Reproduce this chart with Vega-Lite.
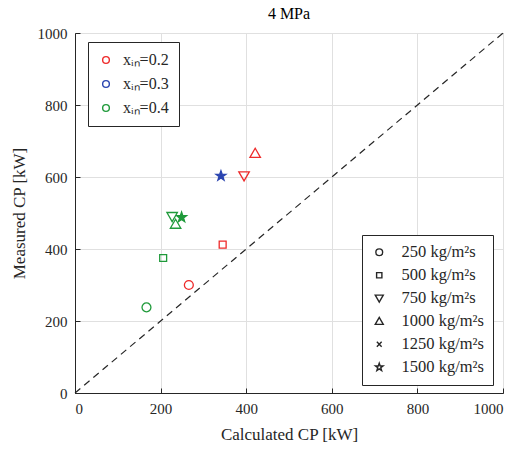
{
  "$schema": "https://vega.github.io/schema/vega-lite/v6.json",
  "width": 428,
  "height": 360,
  "autosize": "none",
  "padding": {"left": 75, "top": 33, "right": 21, "bottom": 57},
  "title": {"text": "4 MPa", "fontSize": 16, "font": "Liberation Serif", "fontWeight": "normal", "offset": 4, "color": "black"},
  "config": {
    "font": "Liberation Serif",
    "view": {"stroke": "#262626", "strokeWidth": 1},
    "axis": {
      "grid": true,
      "gridColor": "#e0e0e0",
      "gridWidth": 1,
      "domainColor": "#262626",
      "tickColor": "#262626",
      "tickSize": -5,
      "labelPadding": 13,
      "labelFontSize": 15,
      "labelColor": "#262626",
      "titleFontSize": 17,
      "titleFontWeight": "normal",
      "titleColor": "#262626",
      "labelFont": "Liberation Serif",
      "titleFont": "Liberation Serif",
      "format": "d"
    },
    "legend": {
      "strokeColor": "#262626",
      "fillColor": "white",
      "labelFont": "Liberation Serif",
      "labelFontSize": 16,
      "labelColor": "#262626",
      "symbolStrokeWidth": 1.4,
      "cornerRadius": 0
    }
  },
  "datasets": {
    "pts": [
      {"calc": 266, "meas": 300, "xin": "0.2", "G": "250"},
      {"calc": 345, "meas": 412, "xin": "0.2", "G": "500"},
      {"calc": 395, "meas": 603, "xin": "0.2", "G": "750"},
      {"calc": 421, "meas": 666, "xin": "0.2", "G": "1000"},
      {"calc": 341, "meas": 603, "xin": "0.3", "G": "1500"},
      {"calc": 167, "meas": 238, "xin": "0.4", "G": "250"},
      {"calc": 206, "meas": 375, "xin": "0.4", "G": "500"},
      {"calc": 227, "meas": 490, "xin": "0.4", "G": "750"},
      {"calc": 235, "meas": 469, "xin": "0.4", "G": "1000"},
      {"calc": 249, "meas": 488, "xin": "0.4", "G": "1500"}
    ]
  },
  "layer": [
    {
      "data": {"values": [{"x": 0, "y": 0}, {"x": 1000, "y": 1000}]},
      "mark": {"type": "line", "color": "#262626", "strokeDash": [7, 5], "strokeWidth": 1.2},
      "encoding": {
        "x": {"field": "x", "type": "quantitative"},
        "y": {"field": "y", "type": "quantitative"}
      }
    },
    {
      "data": {"name": "pts"},
      "mark": {"type": "point", "filled": false, "strokeWidth": 1.3, "opacity": 1, "size": 110},
      "encoding": {
        "x": {"field": "calc", "type": "quantitative", "scale": {"domain": [0, 1000], "nice": false}, "axis": {"values": [0, 200, 400, 600, 800, 1000], "title": "Calculated CP [kW]", "titlePadding": 10}},
        "y": {"field": "meas", "type": "quantitative", "scale": {"domain": [0, 1000], "nice": false}, "axis": {"values": [0, 200, 400, 600, 800, 1000], "title": "Measured CP [kW]", "titlePadding": 9}},
        "color": {
          "field": "xin", "type": "nominal",
          "scale": {"domain": ["0.2", "0.3", "0.4"], "range": ["#ee2a2a", "#2a44b0", "#1f9a3a"]},
          "legend": {"title": null, "orient": "none", "legendX": 13, "legendY": 9, "symbolType": "circle", "symbolSize": 45, "labelFont": "Liberation Serif", "labelExpr": "'xᵢₙ=' + datum.label", "rowPadding": 8, "padding": 10, "labelOffset": 9}
        },
        "shape": {
          "field": "G", "type": "nominal",
          "scale": {"domain": ["250", "500", "750", "1000", "1250", "1500"], "range": [
            "M0.85,0A0.85,0.85 0 1,1 -0.85,0A0.85,0.85 0 1,1 0.85,0Z",
            "M-0.66,-0.66L0.66,-0.66L0.66,0.66L-0.66,0.66Z",
            "M-1,-0.78L1,-0.78L0,0.95Z",
            "M-1,0.78L1,0.78L0,-0.95Z",
            "M-0.6,-0.6L0.6,0.6M-0.6,0.6L0.6,-0.6",
            "M0,-1L0.235,-0.324L0.951,-0.309L0.38,0.124L0.588,0.809L0,0.4L-0.588,0.809L-0.38,0.124L-0.951,-0.309L-0.235,-0.324Z"]},
          "legend": {"title": null, "orient": "none", "legendX": 287, "legendY": 202, "symbolSize": 64, "labelFont": "Liberation Serif", "labelFontSize": 16.5, "symbolStrokeColor": "#262626", "labelExpr": "datum.label + ' kg/m²s'", "rowPadding": 6, "padding": 9, "labelOffset": 14,
            "encode": {"symbols": {"update": {"fill": {"signal": "datum.value == '1500' ? '#262626' : 'transparent'"}, "stroke": {"value": "#262626"}}}}}
        }
      }
    },
    {
      "data": {"name": "pts"},
      "transform": [{"filter": "datum.G == '1500' && datum.xin == '0.3'"}],
      "mark": {"type": "point", "filled": true, "opacity": 1, "size": 110, "strokeWidth": 0, "color": "#2a44b0", "shape": "M0,-1L0.235,-0.324L0.951,-0.309L0.38,0.124L0.588,0.809L0,0.4L-0.588,0.809L-0.38,0.124L-0.951,-0.309L-0.235,-0.324Z"},
      "encoding": {
        "x": {"field": "calc", "type": "quantitative"},
        "y": {"field": "meas", "type": "quantitative"}
      }
    },
    {
      "data": {"name": "pts"},
      "transform": [{"filter": "datum.G == '1500' && datum.xin == '0.4'"}],
      "mark": {"type": "point", "filled": true, "opacity": 1, "size": 110, "strokeWidth": 0, "color": "#1f9a3a", "shape": "M0,-1L0.235,-0.324L0.951,-0.309L0.38,0.124L0.588,0.809L0,0.4L-0.588,0.809L-0.38,0.124L-0.951,-0.309L-0.235,-0.324Z"},
      "encoding": {
        "x": {"field": "calc", "type": "quantitative"},
        "y": {"field": "meas", "type": "quantitative"}
      }
    }
  ]
}
